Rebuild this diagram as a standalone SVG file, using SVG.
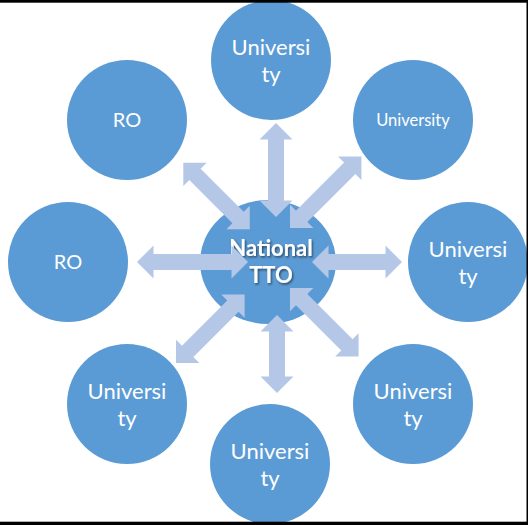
<svg xmlns="http://www.w3.org/2000/svg" width="528" height="525" viewBox="0 0 528 525">
  <defs>
    <style>
      .node { fill: #5B9BD5; }
      .lbl { fill: #FFFFFF; font-family: Lato, "Open Sans", "Liberation Sans", sans-serif; text-anchor: middle; }
      .hubl { fill: #FFFFFF; font-family: Lato, "Open Sans", "Liberation Sans", sans-serif; font-weight: bold; text-anchor: middle; font-size: 22px; }
      .arr { fill: #B4C7E7; }
      .frame { fill: #000000; }
    </style>
    <filter id="shadow" x="-20%" y="-20%" width="140%" height="160%">
      <feDropShadow dx="1.2" dy="1.5" stdDeviation="0.8" flood-color="#000000" flood-opacity="0.55"/>
    </filter>
  </defs>
  <rect x="0" y="0" width="528" height="525" fill="#FFFFFF"/>

  <g id="node-top-left">
    <circle class="node" cx="127" cy="120" r="60"/>
    <text class="lbl" x="127" y="127" font-size="20">RO</text>
  </g>
  <g id="node-left">
    <circle class="node" cx="68" cy="262" r="60"/>
    <text class="lbl" x="68" y="269" font-size="20">RO</text>
  </g>
  <g id="node-top">
    <circle class="node" cx="271" cy="60" r="60"/>
    <text class="lbl" x="271" y="55" font-size="22">Universi</text>
    <text class="lbl" x="271" y="82" font-size="22">ty</text>
  </g>
  <g id="node-top-right">
    <circle class="node" cx="413" cy="120" r="60"/>
    <text class="lbl" x="413" y="126" font-size="16.5">University</text>
  </g>
  <g id="node-right">
    <circle class="node" cx="468" cy="262" r="60"/>
    <text class="lbl" x="468" y="257" font-size="22">Universi</text>
    <text class="lbl" x="468" y="284" font-size="22">ty</text>
  </g>
  <g id="node-bottom-right">
    <circle class="node" cx="413" cy="404" r="60"/>
    <text class="lbl" x="413" y="399" font-size="22">Universi</text>
    <text class="lbl" x="413" y="426" font-size="22">ty</text>
  </g>
  <g id="node-bottom">
    <circle class="node" cx="270" cy="464" r="60"/>
    <text class="lbl" x="270" y="459" font-size="22">Universi</text>
    <text class="lbl" x="270" y="486" font-size="22">ty</text>
  </g>
  <g id="node-bottom-left">
    <circle class="node" cx="127" cy="404" r="60"/>
    <text class="lbl" x="127" y="399" font-size="22">Universi</text>
    <text class="lbl" x="127" y="426" font-size="22">ty</text>
  </g>

  <g id="node-hub">
    <ellipse class="node" cx="268" cy="262" rx="68" ry="62"/>
    <g filter="url(#shadow)">
      <text class="hubl" x="271" y="256">National</text>
      <text class="hubl" x="271" y="283">TTO</text>
    </g>
  </g>

  <g id="connectors">
    <path class="arr" transform="translate(137,262)" d="M0,0 L16.5,-16.5 L16.5,-8 L94.5,-8 L94.5,-16.5 L111,0 L94.5,16.5 L94.5,8 L16.5,8 L16.5,16.5 Z"/>
    <path class="arr" transform="translate(312,262)" d="M0,0 L16.5,-16.5 L16.5,-8 L73.5,-8 L73.5,-16.5 L90,0 L73.5,16.5 L73.5,8 L16.5,8 L16.5,16.5 Z"/>
    <path class="arr" transform="translate(276,123) rotate(90)" d="M0,0 L16.5,-16.5 L16.5,-8 L77.5,-8 L77.5,-16.5 L94,0 L77.5,16.5 L77.5,8 L16.5,8 L16.5,16.5 Z"/>
    <path class="arr" transform="translate(277,315) rotate(90)" d="M0,0 L16.5,-16.5 L16.5,-8 L61.5,-8 L61.5,-16.5 L78,0 L61.5,16.5 L61.5,8 L16.5,8 L16.5,16.5 Z"/>
    <path class="arr" transform="translate(183.3,162.7) rotate(45)" d="M0,0 L16.5,-16.5 L16.5,-8 L77.5,-8 L77.5,-16.5 L94,0 L77.5,16.5 L77.5,8 L16.5,8 L16.5,16.5 Z"/>
    <path class="arr" transform="translate(290,228) rotate(-45)" d="M0,0 L16.5,-16.5 L16.5,-8 L84.5,-8 L84.5,-16.5 L101,0 L84.5,16.5 L84.5,8 L16.5,8 L16.5,16.5 Z"/>
    <path class="arr" transform="translate(176,363) rotate(-45)" d="M0,0 L16.5,-16.5 L16.5,-8 L80.5,-8 L80.5,-16.5 L97,0 L80.5,16.5 L80.5,8 L16.5,8 L16.5,16.5 Z"/>
    <path class="arr" transform="translate(290,288) rotate(45)" d="M0,0 L16.5,-16.5 L16.5,-8 L80.5,-8 L80.5,-16.5 L97,0 L80.5,16.5 L80.5,8 L16.5,8 L16.5,16.5 Z"/>
  </g>

  <rect class="frame" x="0" y="0" width="528" height="2.7"/>
  <rect class="frame" x="0" y="521.7" width="528" height="3.3"/>
  <rect class="frame" x="526.5" y="0" width="1.5" height="525"/>
</svg>
